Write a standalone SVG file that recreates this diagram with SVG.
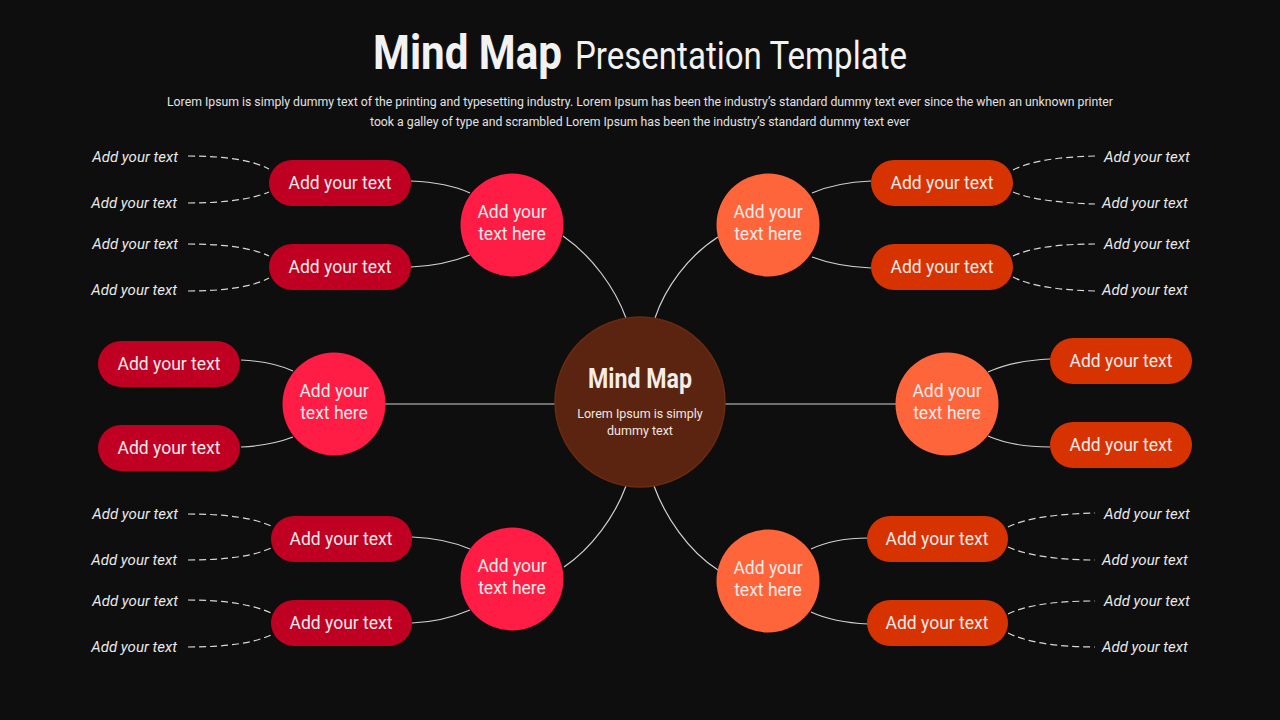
<svg xmlns="http://www.w3.org/2000/svg" width="1280" height="720" viewBox="0 0 1280 720">
<style>
.bg{fill:#0e0e0e}
.title{font-family:Roboto,"Liberation Sans",sans-serif;fill:#f2f2f2}
.sub{font-family:Roboto,"Noto Sans",sans-serif;font-size:12px;fill:#e2e2e2;text-anchor:middle}
.lc{fill:#ff1c45}
.rc{fill:#ff653b}
.lp{fill:#bf0022}
.rp{fill:#d73300}
.t{font-family:Roboto,"Liberation Sans",sans-serif;font-size:17.5px;fill:#fbeaea;text-anchor:middle}
.ct{font-family:Roboto,"Liberation Sans",sans-serif;font-size:12.5px;fill:#f1e6e0;text-anchor:middle}
.it{font-family:Roboto,"Liberation Sans",sans-serif;font-size:15px;font-style:italic;fill:#e8e8e8}
.l{text-anchor:end}
.s{fill:none;stroke:#d0d0d0;stroke-width:1.2}
.d{fill:none;stroke:#d8d8d8;stroke-width:1.2;stroke-dasharray:7 4}
</style>
<rect class="bg" x="0" y="0" width="1280" height="720"/>
<g id="title">
<text class="title" x="373" y="69" font-size="48" font-weight="700" textLength="189" lengthAdjust="spacingAndGlyphs">Mind Map</text>
<text class="title" x="575" y="69" font-size="38" textLength="332" lengthAdjust="spacingAndGlyphs">Presentation Template</text>
<text class="sub" x="640" y="106" textLength="946" lengthAdjust="spacingAndGlyphs">Lorem Ipsum is simply dummy text of the printing and typesetting industry. Lorem Ipsum has been the industry’s standard dummy text ever since the when an unknown printer</text>
<text class="sub" x="640" y="126" textLength="540" lengthAdjust="spacingAndGlyphs">took a galley of type and scrambled Lorem Ipsum has been the industry’s standard dummy text ever</text>
</g>
<g id="connectors">
<path class="s" d="M563,236 C592,256 615,288 626,318"/>
<path class="s" d="M718,237 C688,256 665,288 655,318"/>
<path class="s" d="M564,567 C592,548 615,516 626,486"/>
<path class="s" d="M718,570 C688,551 665,516 654,486"/>
<path class="s" d="M385,404 L555,404"/>
<path class="s" d="M725,404 L896,404"/>
<path class="s" d="M411,181 C435,182 455,186 470,193"/>
<path class="s" d="M411,267 C435,266 455,261 470,255"/>
<path class="d" d="M188,156 C225,156 252,160 269,169"/>
<path class="d" d="M188,203 C225,203 252,199 269,192"/>
<path class="d" d="M188,244 C225,244 252,248 269,256"/>
<path class="d" d="M188,291 C225,291 252,287 269,278"/>
<path class="s" d="M241,360 C262,361 280,365 293,371"/>
<path class="s" d="M241,447 C262,446 280,442 293,437"/>
<path class="s" d="M412,537 C436,538 456,543 470,549"/>
<path class="s" d="M412,623 C436,622 456,616 470,610"/>
<path class="d" d="M188,514 C226,514 254,518 271,526"/>
<path class="d" d="M188,560 C226,560 254,556 271,548"/>
<path class="d" d="M188,600 C226,600 254,605 271,613"/>
<path class="d" d="M188,647 C226,647 254,643 271,635"/>
<path class="s" d="M812,193 C828,186 848,182 871,181"/>
<path class="s" d="M812,257 C828,263 848,267 871,268"/>
<path class="d" d="M1013,170 C1030,161 1058,157 1095,156"/>
<path class="d" d="M1013,192 C1030,199 1058,203 1095,204"/>
<path class="d" d="M1013,256 C1030,248 1058,244 1095,244"/>
<path class="d" d="M1013,277 C1030,286 1058,290 1095,291"/>
<path class="s" d="M988,372 C1004,365 1026,360 1050,359"/>
<path class="s" d="M988,436 C1004,443 1026,447 1050,447"/>
<path class="s" d="M811,549 C826,542 846,538 868,538"/>
<path class="s" d="M811,612 C826,619 846,623 868,624"/>
<path class="d" d="M1008,527 C1026,518 1056,514 1095,513"/>
<path class="d" d="M1008,547 C1026,555 1056,560 1095,560"/>
<path class="d" d="M1008,614 C1026,605 1056,601 1095,601"/>
<path class="d" d="M1008,633 C1026,642 1056,647 1095,647"/>
</g>
<g id="center">
<circle cx="640" cy="402" r="85" fill="#5b2410" stroke="#6a2a10" stroke-width="1.5"/>
<text class="title" x="640" y="388" font-size="27" font-weight="700" text-anchor="middle" textLength="104" lengthAdjust="spacingAndGlyphs" style="fill:#f3ede8">Mind Map</text>
<text class="ct" x="640" y="418">Lorem Ipsum is simply</text>
<text class="ct" x="640" y="435">dummy text</text>
</g>
<g id="branch-top-left">
<circle class="lc" cx="512" cy="225" r="51.5"/>
<text class="t" x="512" y="218">Add your</text>
<text class="t" x="512" y="240">text here</text>
</g>
<g id="branch-mid-left">
<circle class="lc" cx="334" cy="404" r="51.5"/>
<text class="t" x="334" y="397">Add your</text>
<text class="t" x="334" y="419">text here</text>
</g>
<g id="branch-bottom-left">
<circle class="lc" cx="512" cy="579" r="51.5"/>
<text class="t" x="512" y="572">Add your</text>
<text class="t" x="512" y="594">text here</text>
</g>
<g id="branch-top-right">
<circle class="rc" cx="768" cy="225" r="51.5"/>
<text class="t" x="768" y="218">Add your</text>
<text class="t" x="768" y="240">text here</text>
</g>
<g id="branch-mid-right">
<circle class="rc" cx="947" cy="404" r="51.5"/>
<text class="t" x="947" y="397">Add your</text>
<text class="t" x="947" y="419">text here</text>
</g>
<g id="branch-bottom-right">
<circle class="rc" cx="768" cy="581" r="51.5"/>
<text class="t" x="768" y="574">Add your</text>
<text class="t" x="768" y="596">text here</text>
</g>
<g id="pill-tl-1"><rect class="lp" x="269" y="160" width="142" height="46" rx="23"/><text class="t" x="340" y="189">Add your text</text></g>
<g id="pill-tl-2"><rect class="lp" x="269" y="244" width="142" height="46" rx="23"/><text class="t" x="340" y="273">Add your text</text></g>
<g id="pill-ml-1"><rect class="lp" x="98" y="341" width="142" height="46" rx="23"/><text class="t" x="169" y="370">Add your text</text></g>
<g id="pill-ml-2"><rect class="lp" x="98" y="425" width="142" height="46" rx="23"/><text class="t" x="169" y="454">Add your text</text></g>
<g id="pill-bl-1"><rect class="lp" x="271" y="516" width="141" height="46" rx="23"/><text class="t" x="341" y="545">Add your text</text></g>
<g id="pill-bl-2"><rect class="lp" x="271" y="600" width="141" height="46" rx="23"/><text class="t" x="341" y="629">Add your text</text></g>
<g id="pill-tr-1"><rect class="rp" x="871" y="160" width="142" height="46" rx="23"/><text class="t" x="942" y="189">Add your text</text></g>
<g id="pill-tr-2"><rect class="rp" x="871" y="244" width="142" height="46" rx="23"/><text class="t" x="942" y="273">Add your text</text></g>
<g id="pill-mr-1"><rect class="rp" x="1050" y="338" width="142" height="46" rx="23"/><text class="t" x="1121" y="367">Add your text</text></g>
<g id="pill-mr-2"><rect class="rp" x="1050" y="422" width="142" height="46" rx="23"/><text class="t" x="1121" y="451">Add your text</text></g>
<g id="pill-br-1"><rect class="rp" x="867" y="516" width="141" height="46" rx="23"/><text class="t" x="937" y="545">Add your text</text></g>
<g id="pill-br-2"><rect class="rp" x="867" y="600" width="141" height="46" rx="23"/><text class="t" x="937" y="629">Add your text</text></g>
<g id="labels-left">
<text class="it l" x="178" y="162">Add your text</text>
<text class="it l" x="177" y="208">Add your text</text>
<text class="it l" x="178" y="249">Add your text</text>
<text class="it l" x="177" y="295">Add your text</text>
<text class="it l" x="178" y="519">Add your text</text>
<text class="it l" x="177" y="565">Add your text</text>
<text class="it l" x="178" y="606">Add your text</text>
<text class="it l" x="177" y="652">Add your text</text>
</g>
<g id="labels-right">
<text class="it" x="1104" y="162">Add your text</text>
<text class="it" x="1102" y="208">Add your text</text>
<text class="it" x="1104" y="249">Add your text</text>
<text class="it" x="1102" y="295">Add your text</text>
<text class="it" x="1104" y="519">Add your text</text>
<text class="it" x="1102" y="565">Add your text</text>
<text class="it" x="1104" y="606">Add your text</text>
<text class="it" x="1102" y="652">Add your text</text>
</g>
</svg>
